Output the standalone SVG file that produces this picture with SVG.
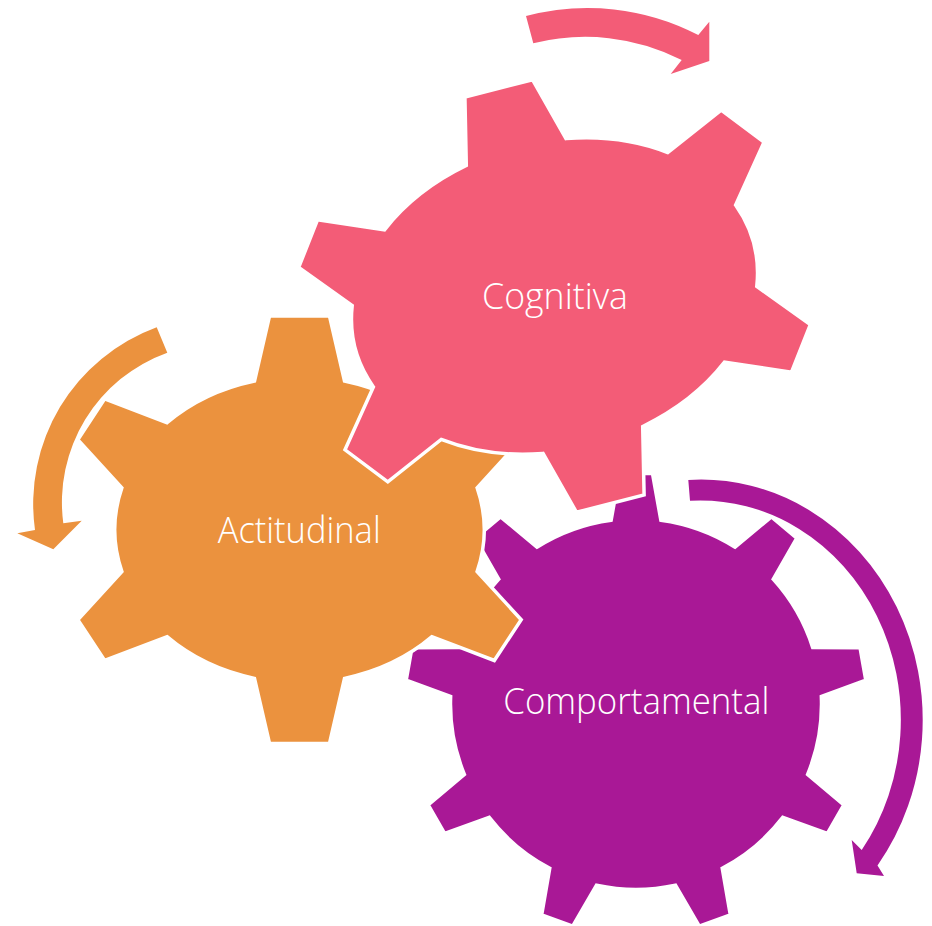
<svg xmlns="http://www.w3.org/2000/svg" width="932" height="926" viewBox="0 0 932 926">
  <style>
    .gear { stroke: #FFFFFF; stroke-width: 3.5; stroke-linejoin: miter; }
    .pink { fill: #F35C77; }
    .orange { fill: #EB923E; }
    .purple { fill: #A91896; }
    .label { font-family: "Open Sans", "Noto Sans", "Liberation Sans", sans-serif; font-weight: 300; font-size: 37px; fill: #FFFFFF; text-anchor: middle; }
  </style>
  <rect width="932" height="926" fill="#FFFFFF"/>

  <g id="gear-comportamental">
    <path class="gear purple" d="M 611.14,520.17 L 619.48,473.59 L 652.52,473.59 L 660.86,520.17 A 185.5 185.5 0 0 1 735.12,547.2 L 771.44,516.88 L 796.76,538.11 L 773.2,579.16 A 185.5 185.5 0 0 1 812.72,647.6 L 860.04,647.72 L 865.78,680.26 L 821.35,696.56 A 185.5 185.5 0 0 1 807.63,774.39 L 843.8,804.9 L 827.28,833.51 L 782.77,817.44 A 185.5 185.5 0 0 1 722.23,868.24 L 730.32,914.86 L 699.28,926.16 L 675.52,885.24 A 185.5 185.5 0 0 1 596.48,885.24 L 572.72,926.16 L 541.68,914.86 L 549.77,868.24 A 185.5 185.5 0 0 1 489.23,817.44 L 444.72,833.51 L 428.2,804.9 L 464.37,774.39 A 185.5 185.5 0 0 1 450.65,696.56 L 406.22,680.26 L 411.96,647.72 L 459.28,647.6 A 185.5 185.5 0 0 1 498.8,579.16 L 475.24,538.11 L 500.56,516.88 L 536.88,547.2 A 185.5 185.5 0 0 1 611.14,520.17 Z"/>
    <text class="label" x="636.3" y="714" textLength="266" lengthAdjust="spacingAndGlyphs">Comportamental</text>
  </g>

  <g id="gear-actitudinal">
    <path class="gear orange" d="M 254.5,381 L 269.5,316 L 329.5,316 L 344.5,381 A 185.6 153.1 0 0 1 432,422.7 L 494.3,398.9 L 521.2,439.7 L 477.1,487.8 A 185.6 153.1 0 0 1 477.1,571.6 L 521.2,619.7 L 494.3,660.5 L 432,636.7 A 185.6 153.1 0 0 1 344.5,678.4 L 329.5,743.4 L 269.5,743.4 L 254.5,678.4 A 185.6 153.1 0 0 1 167,636.7 L 104.7,660.5 L 77.8,619.7 L 121.9,571.6 A 185.6 153.1 0 0 1 121.9,487.8 L 77.8,439.7 L 104.7,398.9 L 167,422.7 A 185.6 153.1 0 0 1 254.5,381 Z"/>
    <text class="label" x="299.2" y="543.3" textLength="163" lengthAdjust="spacingAndGlyphs">Actitudinal</text>
  </g>

  <g id="gear-cognitiva">
    <path class="gear pink" d="M 466.3,165.5 L 464.9,97 L 532.5,79.7 L 566,138.6 A 206 154 -15 0 1 667.8,152.6 L 721.2,110.2 L 764,142.2 L 735.6,205.1 A 206 154 -15 0 1 756.8,286.4 L 810.3,324.6 L 791.5,372.2 L 724.5,362.2 A 206 154 -15 0 1 642.7,426.5 L 644.1,495 L 576.5,512.3 L 543,453.4 A 206 154 -15 0 1 441.2,439.4 L 387.8,481.8 L 345,449.8 L 373.4,386.9 A 206 154 -15 0 1 352.2,305.6 L 298.7,267.4 L 317.5,219.8 L 384.5,229.8 A 206 154 -15 0 1 466.3,165.5 Z"/>
    <text class="label" x="555" y="308.5" textLength="146" lengthAdjust="spacingAndGlyphs">Cognitiva</text>
  </g>

  <g id="connectors">
    <path id="arrow-cognitiva" class="pink" d="M 526,16 A 239.7 239.7 0 0 1 698.3,35 L 709.3,21.7 L 709.3,61 L 670.7,74 L 681.7,60 A 212 212 0 0 0 533.3,43.3 Z"/>
    <path id="arrow-actitudinal" class="orange" d="M 156.7,327.3 A 188 188 0 0 0 35,530 L 17.3,533.3 L 53.3,549.3 L 81.7,520.7 L 63.3,523.3 A 159 159 0 0 1 167.3,352.7 Z"/>
    <path id="arrow-comportamental" class="purple" d="M 688.3,480 A 221.6 240.4 0 0 1 877.5,865.5 L 884,876 L 856.7,873.3 L 851.7,840 L 861.7,850 A 200.6 219.4 0 0 0 690,500.7 Z"/>
  </g>
</svg>
